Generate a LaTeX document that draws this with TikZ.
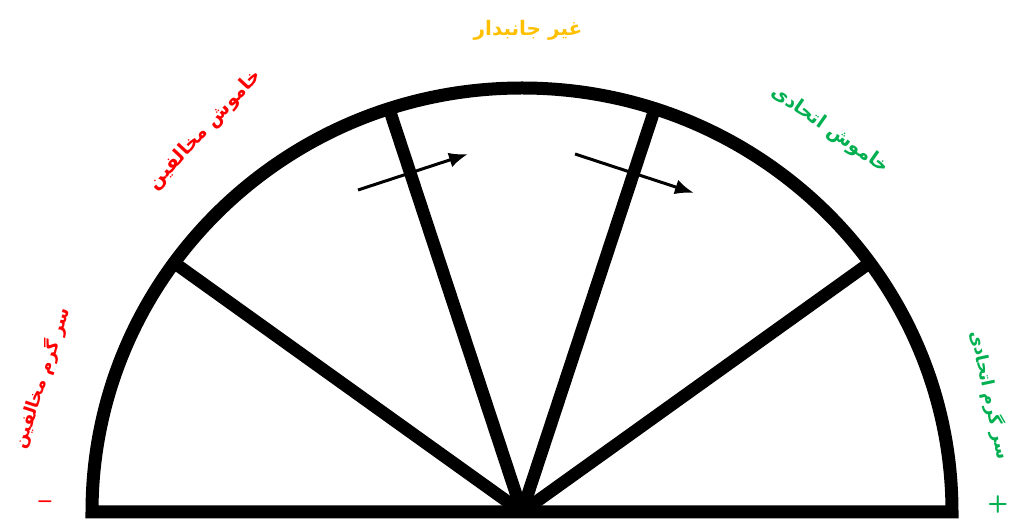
\documentclass[tikz,border=0pt]{standalone}
\usepackage{fontspec}
\usepackage{xcolor}
\usetikzlibrary{arrows.meta}
\TeXXeTstate=1
\newfontfamily\urdufont[Script=Arabic]{DejaVu Sans}
\definecolor{rojo}{HTML}{FF0000}
\definecolor{verde}{HTML}{00B050}
\definecolor{naranja}{HTML}{FFC000}

\begin{document}
\begin{tikzpicture}[
    x=1pt, y=1pt,
    marco/.style={line width=13pt, line join=miter, draw=black},
    radio/.style={line width=12.5pt, draw=black},
    flecha/.style={-{Latex[length=19pt, width=15pt]}, line width=3pt},
    etiqueta/.style={font=\urdufont\bfseries\fontsize{20}{24}\selectfont, inner sep=1pt},
    lateral/.style={font=\urdufont\bfseries\fontsize{17.5}{21}\selectfont, inner sep=1pt},
    signo/.style={font=\sffamily\bfseries\fontsize{24}{28}\selectfont, inner sep=1pt},
]
\useasboundingbox (0,0) rectangle (1031,527);

% semicirculo
\coordinate (o) at (522,15);
\draw[marco] (952,15) arc[start angle=0, end angle=180, x radius=430, y radius=424] -- cycle;

% radios
\foreach \a in {36,72,108,144} {
    \coordinate (s\a) at ({522+430*cos(\a)},{15+424*sin(\a)});
    \draw[radio] (o) -- (s\a);
}

% flechas
\coordinate (f1a) at (358,337);
\coordinate (f1b) at (468,373);
\coordinate (f2a) at (575,373);
\coordinate (f2b) at (694,334);
\draw[flecha] (f1a) -- (f1b);
\draw[flecha] (f2a) -- (f2b);

% textos
\node[etiqueta, text=naranja]                      (neutral)  at (528,497) {\beginR غیر جانبدار\endR};
\node[etiqueta, text=rojo, rotate=47, scale=0.95]  (calladoC) at (205,397) {\beginR خاموش مخالفین\endR};
\node[etiqueta, text=verde, rotate=-35, scale=0.95] (calladoA) at (830,397) {\beginR خاموش اتحادی\endR};
\node[lateral, text=rojo, rotate=72]               (activoC)  at (42,149)  {\beginR سر گرم مخالفین\endR};
\node[lateral, text=verde, rotate=-78]             (activoA)  at (990,132) {\beginR سر گرم اتحادی\endR};
\node[signo, text=rojo]                            (menos)    at (45,22)   {--};
\node[signo, text=verde]                           (mas)      at (998,22)  {+};

\end{tikzpicture}
\end{document}
